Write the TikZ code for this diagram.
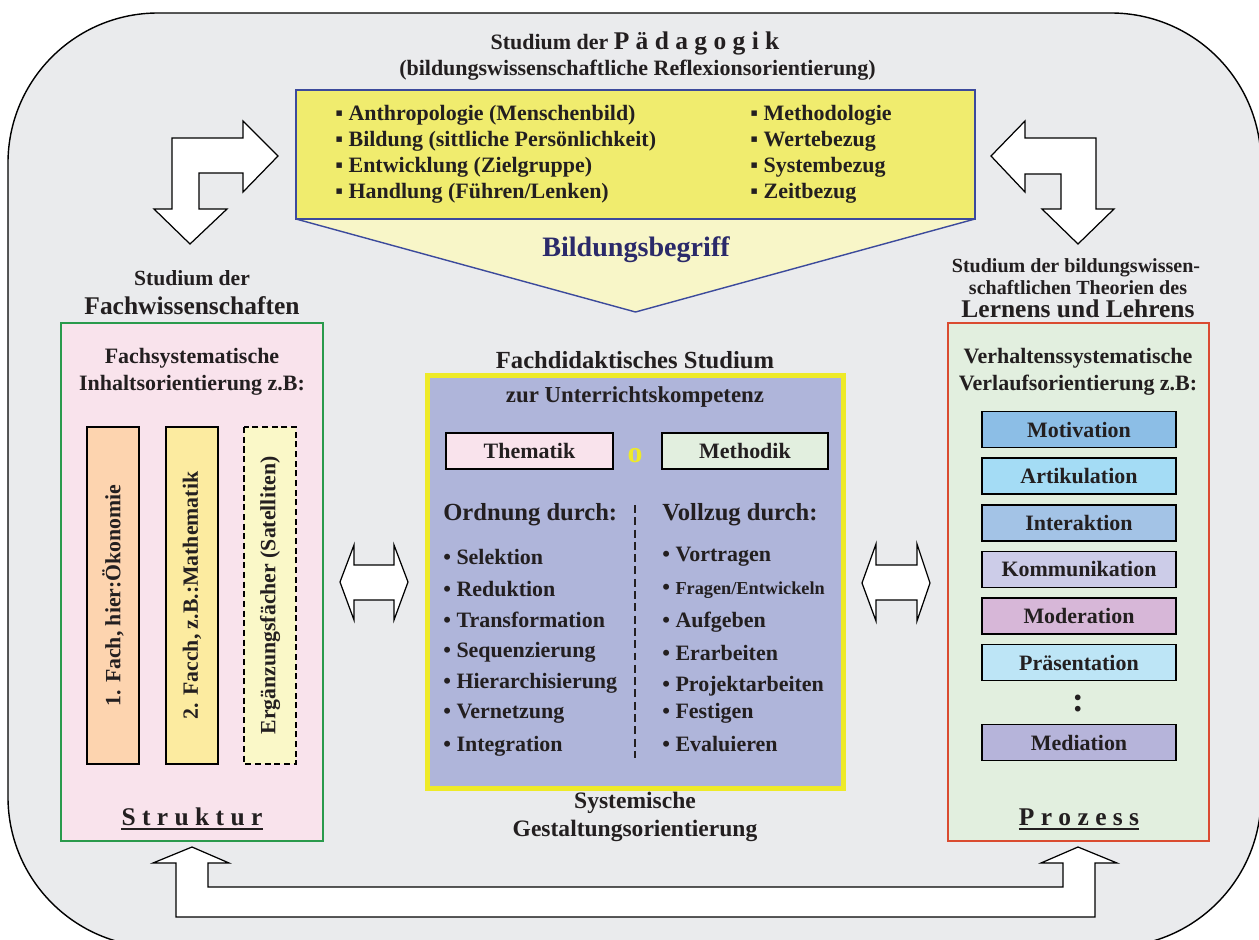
\documentclass[tikz,border=0pt]{standalone}
\usepackage{fontspec}
\setmainfont{Liberation Serif}
\usetikzlibrary{positioning}

\definecolor{bggray}{HTML}{EAEBED}
\definecolor{txtblack}{HTML}{231F20}
\definecolor{pedblue}{HTML}{3C4A9C}
\definecolor{pedyel}{HTML}{F0EC6E}
\definecolor{paleyel}{HTML}{F8F6C8}
\definecolor{navy}{HTML}{2B2A6A}
\definecolor{fachpink}{HTML}{F9E3EC}
\definecolor{fachgreen}{HTML}{2A9A4C}
\definecolor{fachorange}{HTML}{FDD4AF}
\definecolor{fachyel}{HTML}{FCEBA0}
\definecolor{fachsat}{HTML}{FAF8C8}
\definecolor{didblue}{HTML}{AFB5DA}
\definecolor{didyel}{HTML}{EEEA28}
\definecolor{methgreen}{HTML}{E2EFDF}
\definecolor{prozred}{HTML}{DA4B30}
\definecolor{motblue}{HTML}{8CBEE6}
\definecolor{artblue}{HTML}{A4DCF5}
\definecolor{intblue}{HTML}{A3C3E6}
\definecolor{komlila}{HTML}{CCCCE8}
\definecolor{modlila}{HTML}{D7B7D8}
\definecolor{praeblue}{HTML}{BDE5F6}
\definecolor{medlila}{HTML}{B6B4DA}

\newcommand{\fsz}[2]{\fontsize{#1pt}{#2pt}\selectfont\bfseries}

\begin{document}
\begin{tikzpicture}[x=0.02cm, y=-0.02cm,
    lbl/.style={inner sep=0pt, text=txtblack, font=\fsz{12.5}{15}},
    blockarrow/.style={draw=black, fill=white, line width=0.7pt, line join=miter},
    stepbox/.style={draw=black, line width=1pt, minimum width=3.88cm, minimum height=0.72cm,
        inner sep=0pt, text=txtblack, font=\fsz{12.5}{15}},
    topicbox/.style={draw=black, line width=1pt, minimum width=3.34cm, minimum height=0.72cm,
        inner sep=0pt, text=txtblack, font=\fsz{12.5}{15}},
    fachcol/.style={draw=black, line width=0.9pt, rotate=90, minimum width=6.74cm,
        minimum height=1.04cm, inner sep=0pt, text=txtblack, font=\fsz{12.4}{15}}]

    \useasboundingbox (0,0) rectangle (1259,940);
    \clip (0,0) rectangle (1259,940);

    % Rahmen
    \draw[fill=bggray, line width=0.8pt, rounded corners=3cm] (8,13) rectangle (1261,947);

    % Studium der Paedagogik
    \node[lbl] (paedtitel) at (635,43) {Studium der {\fsz{14.5}{15}P ä d a g o g i k}};
    \node[lbl] (reflex) at (637.5,70) {(bildungswissenschaftliche Reflexionsorientierung)};
    \coordinate (pl) at (296,219);
    \coordinate (pr) at (975,219);
    \coordinate (apex) at (635.5,312);
    \fill[paleyel] (pl) -- (apex) -- (pr) -- cycle;
    \draw[pedblue, line width=0.8pt] (pl) -- (apex) -- (pr);
    \node[draw=pedblue, fill=pedyel, line width=1.2pt, minimum width=13.58cm,
        minimum height=2.58cm, inner sep=0pt] (paed) at (635.5,154.5) {};
    \node[lbl, font=\fsz{12.5}{14.8}, anchor=west, align=left] (paedl) at (335,154)
        {▪ Anthropologie (Menschenbild)\\▪ Bildung (sittliche Persönlichkeit)\\
         ▪ Entwicklung (Zielgruppe)\\▪ Handlung (Führen/Lenken)};
    \node[lbl, font=\fsz{12.5}{14.8}, anchor=west, align=left] (paedr) at (750,154)
        {▪ Methodologie\\▪ Wertebezug\\▪ Systembezug\\▪ Zeitbezug};
    \node[lbl, text=navy, font=\fsz{16}{18}] (begriff) at (636,250) {Bildungsbegriff};

    % Winkelpfeile oben
    \draw[blockarrow] (278,156) -- (243,121) -- (243,138) -- (172,138) -- (172,209)
        -- (154,209) -- (190,244) -- (227,209) -- (199,209) -- (199,173) -- (243,173)
        -- (243,192) -- cycle;
    \draw[blockarrow] (991,156) -- (1025,121) -- (1025,138) -- (1096,138) -- (1096,209)
        -- (1114,209) -- (1078,244) -- (1042,209) -- (1061,209) -- (1061,174) -- (1025,174)
        -- (1025,192) -- cycle;

    % Fachwissenschaften
    \node[lbl, font=\fsz{12.3}{15}] (fachkopf1) at (192,278) {Studium der};
    \node[lbl, font=\fsz{14.5}{16}] (fachkopf2) at (192,306) {Fachwissenschaften};
    \node[draw=fachgreen, fill=fachpink, line width=1.4pt, minimum width=5.24cm,
        minimum height=10.36cm, inner sep=0pt] (fach) at (192,582) {};
    \node[lbl] (fachs1) at (192,358) {Fachsystematische};
    \node[lbl] (fachs2) at (192,385) {Inhaltsorientierung z.B:};
    \node[fachcol, fill=fachorange] (fach1) at (113,595.5) {1. Fach, hier:Ökonomie};
    \node[fachcol, fill=fachyel] (fach2) at (192,595.5) {2. Facch, z.B.:Mathematik};
    \node[fachcol, fill=fachsat, dash pattern=on 3.5pt off 2pt] (fach3) at (270,595.5)
        {Ergänzungsfächer (Satelliten)};
    \node[lbl, font=\fsz{14.5}{16}] (struktur) at (192,817) {S t r u k t u r};
    \draw[txtblack, line width=1.1pt] ([yshift=-2pt]struktur.base west)
        -- ([yshift=-2pt]struktur.base east);

    % Fachdidaktik
    \node[lbl, font=\fsz{14}{16}] (fdtitel) at (635,360) {Fachdidaktisches Studium};
    \node[draw=didyel, fill=didblue, line width=2.8pt, minimum width=8.32cm,
        minimum height=8.26cm, inner sep=0pt] (didaktik) at (635.5,582) {};
    \node[lbl, font=\fsz{13}{15}] (zur) at (635,397) {zur Unterrichtskompetenz};
    \node[topicbox, fill=fachpink] (thema) at (529.5,451) {Thematik};
    \node[topicbox, fill=methgreen, minimum width=3.32cm] (metho) at (745,451) {Methodik};
    \node[lbl, text=didyel, font=\fsz{17}{18}] (oder) at (635,456) {o};
    \node[lbl, font=\fsz{14}{16}, anchor=west] (ordnung) at (443,515) {Ordnung durch:};
    \node[lbl, font=\fsz{14}{16}, anchor=west] (vollzug) at (662,515) {Vollzug durch:};
    \draw[txtblack, line width=1.2pt, dash pattern=on 4.5pt off 2.5pt] (635,505) -- (635,758);
    \foreach \wort/\y [count=\i] in {Selektion/557, Reduktion/589, Transformation/620,
        Sequenzierung/652, Hierarchisierung/683, Vernetzung/714, Integration/746}
        \node[lbl, anchor=west] (ord\i) at (443,\y) {• \wort};
    \foreach \wort/\y/\sz [count=\i] in {Vortragen/557/12.5, {Fragen/Entwickeln}/590/10.4,
        Aufgeben/622/12.5, Erarbeiten/653/12.5, Projektarbeiten/686/12.5,
        Festigen/713/12.5, Evaluieren/744/12.5}
        \node[lbl, anchor=west] (voll\i) at (662,\y) {• {\fsz{\sz}{15}\wort}};
    \node[lbl, font=\fsz{13.4}{15}] (system1) at (635,803) {Systemische};
    \node[lbl, font=\fsz{13.4}{15}] (system2) at (635,831) {Gestaltungsorientierung};

    % Lernen und Lehren
    \node[lbl, font=\fsz{11.4}{13}] (lernkopf1) at (1076,268) {Studium der bildungswissen-};
    \node[lbl, font=\fsz{11.4}{13}] (lernkopf2) at (1078,288) {schaftlichen Theorien des};
    \node[lbl, font=\fsz{14.5}{16}] (lernkopf3) at (1078,309) {Lernens und Lehrens};
    \node[draw=prozred, fill=methgreen, line width=1.4pt, minimum width=5.22cm,
        minimum height=10.36cm, inner sep=0pt] (lernen) at (1078.5,582) {};
    \node[lbl] (verh1) at (1078,358) {Verhaltenssystematische};
    \node[lbl] (verh2) at (1078,385) {Verlaufsorientierung z.B:};
    \foreach \wort/\y/\col [count=\i] in {Motivation/429.5/motblue, Artikulation/476/artblue,
        Interaktion/523/intblue, Kommunikation/569.5/komlila, Moderation/616/modlila,
        Präsentation/662.5/praeblue, Mediation/742.5/medlila}
        \node[stepbox, fill=\col] (schritt\i) at (1079,\y) {\wort};
    \node[lbl, font=\fsz{20}{20}] (punkte) at (1078,704) {:};
    \node[lbl, font=\fsz{14.5}{16}] (prozess) at (1079,817) {P r o z e s s};
    \draw[txtblack, line width=1.1pt] ([yshift=-2pt]prozess.base west)
        -- ([yshift=-2pt]prozess.base east);

    % Doppelpfeile
    \draw[blockarrow] (340,582) -- (354,545) -- (354,565) -- (394,565) -- (394,545)
        -- (408,582) -- (394,620) -- (394,600) -- (354,600) -- (354,620) -- cycle;
    \draw[blockarrow] (862,583) -- (876,544) -- (876,565) -- (917,565) -- (917,544)
        -- (930,583) -- (917,621) -- (917,600) -- (876,600) -- (876,621) -- cycle;

    % Rueckkopplung unten
    \draw[blockarrow] (192,847) -- (229,863) -- (208,863) -- (208,887) -- (1063,887)
        -- (1063,863) -- (1041,863) -- (1078,847) -- (1117,863) -- (1095,863) -- (1095,917)
        -- (176,917) -- (176,863) -- (153,863) -- cycle;
\end{tikzpicture}
\end{document}
